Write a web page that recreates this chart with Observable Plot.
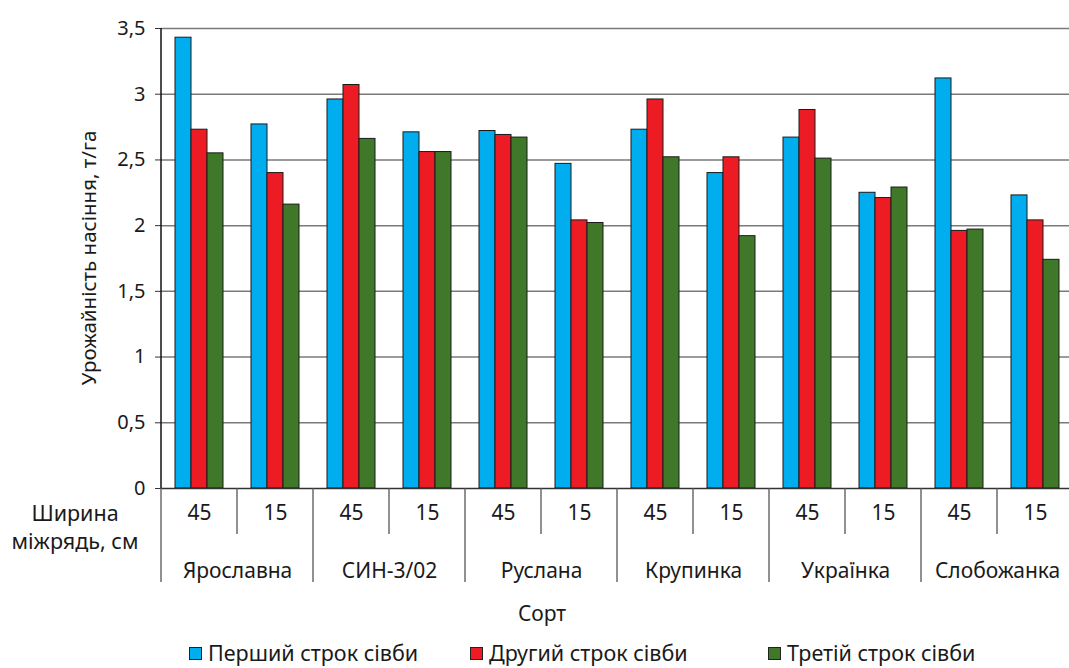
<!DOCTYPE html>
<html><head><meta charset="utf-8">
<script src="https://cdn.jsdelivr.net/npm/d3@7"></script>
<script src="https://cdn.jsdelivr.net/npm/@observablehq/plot@0.6"></script>
<style>
body{margin:0;background:#fff;font-family:"Noto Sans",sans-serif;color:#1a1a1a}
#chart{width:1069px;height:638px;overflow:hidden}
.legend{position:relative;height:30px;font-size:21.5px;line-height:30px}
.legend .it{position:absolute;top:0;display:flex;align-items:center;white-space:nowrap}
.legend .sw{width:11px;height:11px;border:1px solid #222;margin-right:6px}
</style></head>
<body>
<div id="chart"></div>
<div class="legend" id="legend"></div>
<script>
const varieties = ["Ярославна","СИН-3/02","Руслана","Крупинка","Українка","Слобожанка"];
const widths = ["45","15"];
const series = ["Перший строк сівби","Другий строк сівби","Третій строк сівби"];
const colors = ["#00ADEF","#ED1C24","#3F7829"];
const first  = [3.43,2.77,2.96,2.71,2.72,2.47,2.73,2.40,2.67,2.25,3.12,2.23];
const second = [2.73,2.40,3.07,2.56,2.69,2.04,2.96,2.52,2.88,2.21,1.96,2.04];
const third  = [2.55,2.16,2.66,2.56,2.67,2.02,2.52,1.92,2.51,2.29,1.97,1.74];
const yTicks = [0,0.5,1,1.5,2,2.5,3,3.5];
const yLabel = "Урожайність насіння, т/га";
const xLabel = "Сорт";
const rowLabel = ["Ширина","міжрядь, см"];

const groups = varieties.flatMap(v => widths.map(w => v + "|" + w));
const values = [first, second, third];
const data = groups.flatMap((g, i) => series.map((s, j) => ({group: g, series: s, value: values[j][i]})));

const W = 1069, H = 638, mL = 160, mR = -5, mT = 28, mB = 150;
const fw = (W - mL - mR) / groups.length;
const fmt = d => String(d).replace(".", ",");

const plot = Plot.plot({
  width: W, height: H, marginTop: mT, marginLeft: mL, marginRight: mR, marginBottom: mB,
  style: {fontFamily: "Noto Sans", color: "#1a1a1a", background: "#fff"},
  fx: {domain: groups, padding: 0, axis: null},
  x: {domain: series, paddingInner: 0, paddingOuter: 0.875, axis: null},
  y: {domain: [0, 3.5], axis: null},
  color: {domain: series, range: colors},
  marks: [
    Plot.gridY(yTicks.filter(d => d > 0), {stroke: "#7a7a7a", strokeOpacity: 1, strokeWidth: 1.5}),
    Plot.barY(data, {fx: "group", x: "series", y: "value", fill: "series", stroke: "#1a1a1a", strokeWidth: 1}),
    Plot.ruleY([0], {stroke: "#333", strokeWidth: 1.5}),
    Plot.axisY(yTicks, {tickSize: 6, tickPadding: 10, fontSize: 20, tickFormat: fmt, label: null, stroke: "#333"}),
    Plot.text(groups, {fx: d => d, text: d => d.split("|")[1], frameAnchor: "bottom", dy: 31, fontSize: 21}),
    Plot.text(groups.filter(d => d.endsWith("|" + widths[0])), {fx: d => d, text: d => d.split("|")[0], frameAnchor: "bottom", dx: fw / 2, dy: 89, fontSize: 21})
  ]
});
document.getElementById("chart").appendChild(plot);

const svg = d3.select(plot);
const fx = plot.scale("fx");
const ys = plot.scale("y");
const y0 = ys.apply(0), yTop = ys.apply(3.5);
const g = svg.append("g").attr("stroke", "#555").attr("stroke-width", 1.3);
for (let i = 0; i <= groups.length; i++) {
  const x = i < groups.length ? fx.apply(groups[i]) : fx.apply(groups[i - 1]) + fx.bandwidth;
  g.append("line").attr("x1", x).attr("x2", x).attr("y1", y0).attr("y2", i % 2 === 0 ? y0 + 94 : y0 + 46);
}
svg.append("line").attr("x1", fx.apply(groups[0])).attr("x2", fx.apply(groups[0]))
  .attr("y1", yTop).attr("y2", y0).attr("stroke", "#111").attr("stroke-width", 1.5);
svg.append("text").attr("transform", `translate(90,${(y0 + yTop) / 2}) rotate(-90)`)
  .attr("text-anchor", "middle").attr("dominant-baseline", "middle")
  .attr("font-size", 20.5).attr("fill", "#1a1a1a").text(yLabel);
rowLabel.forEach((t, i) => svg.append("text").attr("x", 75).attr("y", y0 + 27 + i * 28)
  .attr("text-anchor", "middle").attr("dominant-baseline", "middle").attr("font-size", 21.5).attr("fill", "#1a1a1a").text(t));
svg.append("text").attr("x", 542).attr("y", y0 + 127).attr("text-anchor", "middle")
  .attr("dominant-baseline", "middle").attr("font-size", 21).attr("fill", "#1a1a1a").text(xLabel);

const legLeft = [189, 470, 768];
const leg = d3.select("#legend");
series.forEach((s, i) => {
  const it = leg.append("div").attr("class", "it").style("left", legLeft[i] + "px");
  it.append("div").attr("class", "sw").style("background", colors[i]);
  it.append("span").text(s);
});
</script>
</body></html>
